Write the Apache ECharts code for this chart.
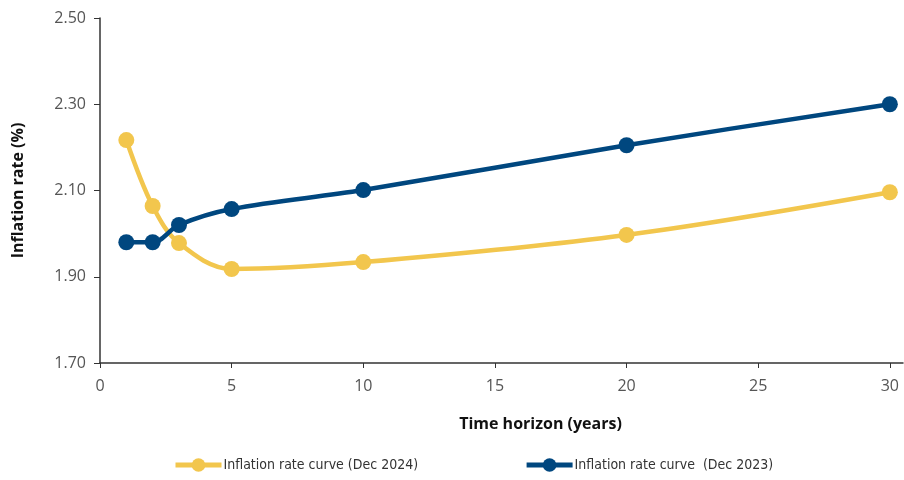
<!DOCTYPE html>
<html>
<head>
<meta charset="utf-8">
<script src="https://cdn.jsdelivr.net/npm/echarts@6/dist/echarts.min.js"></script>
<style>
  html, body { margin: 0; padding: 0; background: #fff; }
  #chart { width: 904px; height: 480px; }
</style>
</head>
<body>
<div id="chart"></div>
<script>
// Time horizon in years
const horizons = [1, 2, 3, 5, 10, 20, 30];
// Inflation rate curves (%)
const curveDec2024 = [2.217, 2.064, 1.978, 1.918, 1.934, 1.997, 2.096];
const curveDec2023 = [1.980, 1.980, 2.020, 2.057, 2.101, 2.205, 2.300];
const xTicks = [0, 5, 10, 15, 20, 25, 30];
const seriesNames = ['Inflation rate curve (Dec 2024)', 'Inflation rate curve  (Dec 2023)'];

const YELLOW = '#F2C64D';
const BLUE = '#00477F';

const chart = echarts.init(document.getElementById('chart'), null, { renderer: 'canvas' });

const pairs = (ys) => horizons.map((x, i) => [x, ys[i]]);

chart.setOption({
  animation: false,
  textStyle: { fontFamily: 'Open Sans' },
  grid: { left: 100, right: 1, top: 18, bottom: 117 },
  legend: {
    top: 453,
    left: 168,
    itemGap: 106,
    itemWidth: 46,
    itemHeight: 17,
    lineStyle: { width: 5 },
    textStyle: {
      fontFamily: '"DejaVu Sans Condensed", "Open Sans", sans-serif',
      fontSize: 14,
      color: '#333',
      padding: [0, 0, 0, -3]
    },
    data: seriesNames
  },
  xAxis: {
    type: 'value',
    min: 0,
    max: 30.5,
    interval: 5,
    name: 'Time horizon (years)',
    nameLocation: 'middle',
    nameGap: 53,
    nameTextStyle: { fontWeight: 'bold', fontSize: 16, color: '#111', padding: [0, 0, 0, 78] },
    axisLine: { lineStyle: { color: '#333', width: 1.5 } },
    axisTick: { show: true, length: 5, customValues: xTicks, lineStyle: { color: '#333' } },
    axisLabel: { customValues: xTicks, fontSize: 16, color: '#555', margin: 15 },
    splitLine: { show: false }
  },
  yAxis: {
    type: 'value',
    min: 1.7,
    max: 2.5,
    interval: 0.2,
    name: 'Inflation rate (%)',
    nameLocation: 'middle',
    nameGap: 74,
    nameTextStyle: { fontWeight: 'bold', fontSize: 16, color: '#111' },
    axisLine: { show: true, lineStyle: { color: '#333', width: 1.5 } },
    axisTick: { show: true, length: 6, lineStyle: { color: '#333' } },
    axisLabel: { fontSize: 16, color: '#555', margin: 14, formatter: (v) => v.toFixed(2) },
    splitLine: { show: false }
  },
  series: [
    {
      name: seriesNames[0],
      type: 'line',
      smooth: 0.35,
      data: pairs(curveDec2024),
      symbol: 'circle',
      symbolSize: 16,
      lineStyle: { color: YELLOW, width: 4.5 },
      itemStyle: { color: YELLOW }
    },
    {
      name: seriesNames[1],
      type: 'line',
      smooth: 0.35,
      data: pairs(curveDec2023),
      symbol: 'circle',
      symbolSize: 16,
      lineStyle: { color: BLUE, width: 4.5 },
      itemStyle: { color: BLUE }
    }
  ]
});
</script>
</body>
</html>
